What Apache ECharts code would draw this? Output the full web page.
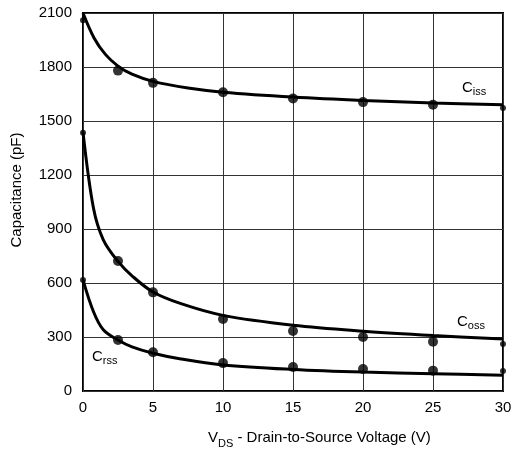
<!DOCTYPE html>
<html><head><meta charset="utf-8">
<script src="https://cdn.jsdelivr.net/npm/echarts@6/dist/echarts.min.js"></script>
<style>html,body{margin:0;padding:0;background:#fff}#c{width:524px;height:458px}</style>
</head><body><div id="c"></div>
<script>
// Curve (fitted line) points [V, pF]
const cissLine = [[0,2100],[0.8,1960],[1.6,1870],[2.5,1805],[3.5,1760],[5,1720],[7.5,1683],[10,1660],[15,1633],[20,1614],[25,1600],[30,1590]];
const cossLine = [[0,1440],[0.75,1015],[1.45,840],[2.5,720],[3.5,640],[5,550],[7,485],[10,420],[15,365],[20,332],[25,308],[30,289]];
const crssLine = [[0,617],[0.75,440],[1.45,340],[2.5,283],[3.5,245],[5,210],[7,178],[10,145],[15,120],[20,105],[25,96],[30,88]];
// Measured points
const xPts = [0, 2.5, 5, 10, 15, 20, 25, 30];
const cissPts = [2060, 1780, 1712, 1660, 1625, 1605, 1590, 1572];
const cossPts = [1435, 722, 548, 400, 333, 300, 274, 261];
const crssPts = [617, 283, 215, 155, 133, 122, 113, 111];
const yTicks = [0, 300, 600, 900, 1200, 1500, 1800, 2100];
const xTicks = [0, 5, 10, 15, 20, 25, 30];

const FONT = 'Liberation Sans, Arial, sans-serif';
const chart = echarts.init(document.getElementById('c'));
const pts = arr => arr.map((v, i) => [xPts[i], v]);
const symSize = (v, p) => (p.dataIndex === 0 || p.dataIndex === xPts.length - 1) ? 6 : 10;
const lineS = d => ({type:'line', data:d, smooth:0.35, showSymbol:false, lineStyle:{color:'#000', width:3}, z:3, silent:true});
const dotS = d => ({type:'scatter', data:pts(d), symbolSize:symSize, itemStyle:{color:'#000'}, z:4, silent:true});

chart.setOption({
  animation:false,
  grid:{left:83, top:13, right:21, bottom:67, show:true, borderColor:'#000', borderWidth:2, backgroundColor:'transparent'},
  xAxis:{type:'value', min:xTicks[0], max:xTicks[xTicks.length-1], interval:5,
    axisLine:{show:false}, axisTick:{show:false},
    axisLabel:{color:'#000', fontSize:15, fontFamily:FONT, margin:9, formatter:v => String(v)},
    splitLine:{show:true, lineStyle:{color:'#333', width:1}}},
  yAxis:{type:'value', min:yTicks[0], max:yTicks[yTicks.length-1], interval:300,
    axisLine:{show:false}, axisTick:{show:false},
    axisLabel:{color:'#000', fontSize:15, fontFamily:FONT, margin:11, formatter:v => String(v)},
    splitLine:{show:true, lineStyle:{color:'#333', width:1}}},
  series:[lineS(cissLine), lineS(cossLine), lineS(crssLine), dotS(cissPts), dotS(cossPts), dotS(crssPts)],
  graphic:[
    {type:'text', rotation:Math.PI/2, position:[17,190], style:{text:'Capacitance (pF)', font:'15px '+FONT, fill:'#000', textAlign:'center', textVerticalAlign:'middle'}},
    {type:'text', position:[208,440], style:{text:'{a|V}{b|DS}{a| - Drain-to-Source Voltage (V)}', fill:'#000', textVerticalAlign:'middle',
      rich:{a:{fontSize:15, fontFamily:FONT, fill:'#000', verticalAlign:'top'}, b:{fontSize:11, fontFamily:FONT, fill:'#000', padding:[8,0,0,0]}}}},
    {type:'text', position:[462,88], style:{text:'{a|C}{b|iss}', textVerticalAlign:'middle',
      rich:{a:{fontSize:15, fontFamily:FONT, fill:'#000'}, b:{fontSize:11, fontFamily:FONT, fill:'#000', padding:[7,0,0,0]}}}},
    {type:'text', position:[457,322], style:{text:'{a|C}{b|oss}', textVerticalAlign:'middle',
      rich:{a:{fontSize:15, fontFamily:FONT, fill:'#000'}, b:{fontSize:11, fontFamily:FONT, fill:'#000', padding:[7,0,0,0]}}}},
    {type:'text', position:[92,357], style:{text:'{a|C}{b|rss}', textVerticalAlign:'middle',
      rich:{a:{fontSize:15, fontFamily:FONT, fill:'#000'}, b:{fontSize:11, fontFamily:FONT, fill:'#000', padding:[7,0,0,0]}}}}
  ]
});
</script></body></html>
